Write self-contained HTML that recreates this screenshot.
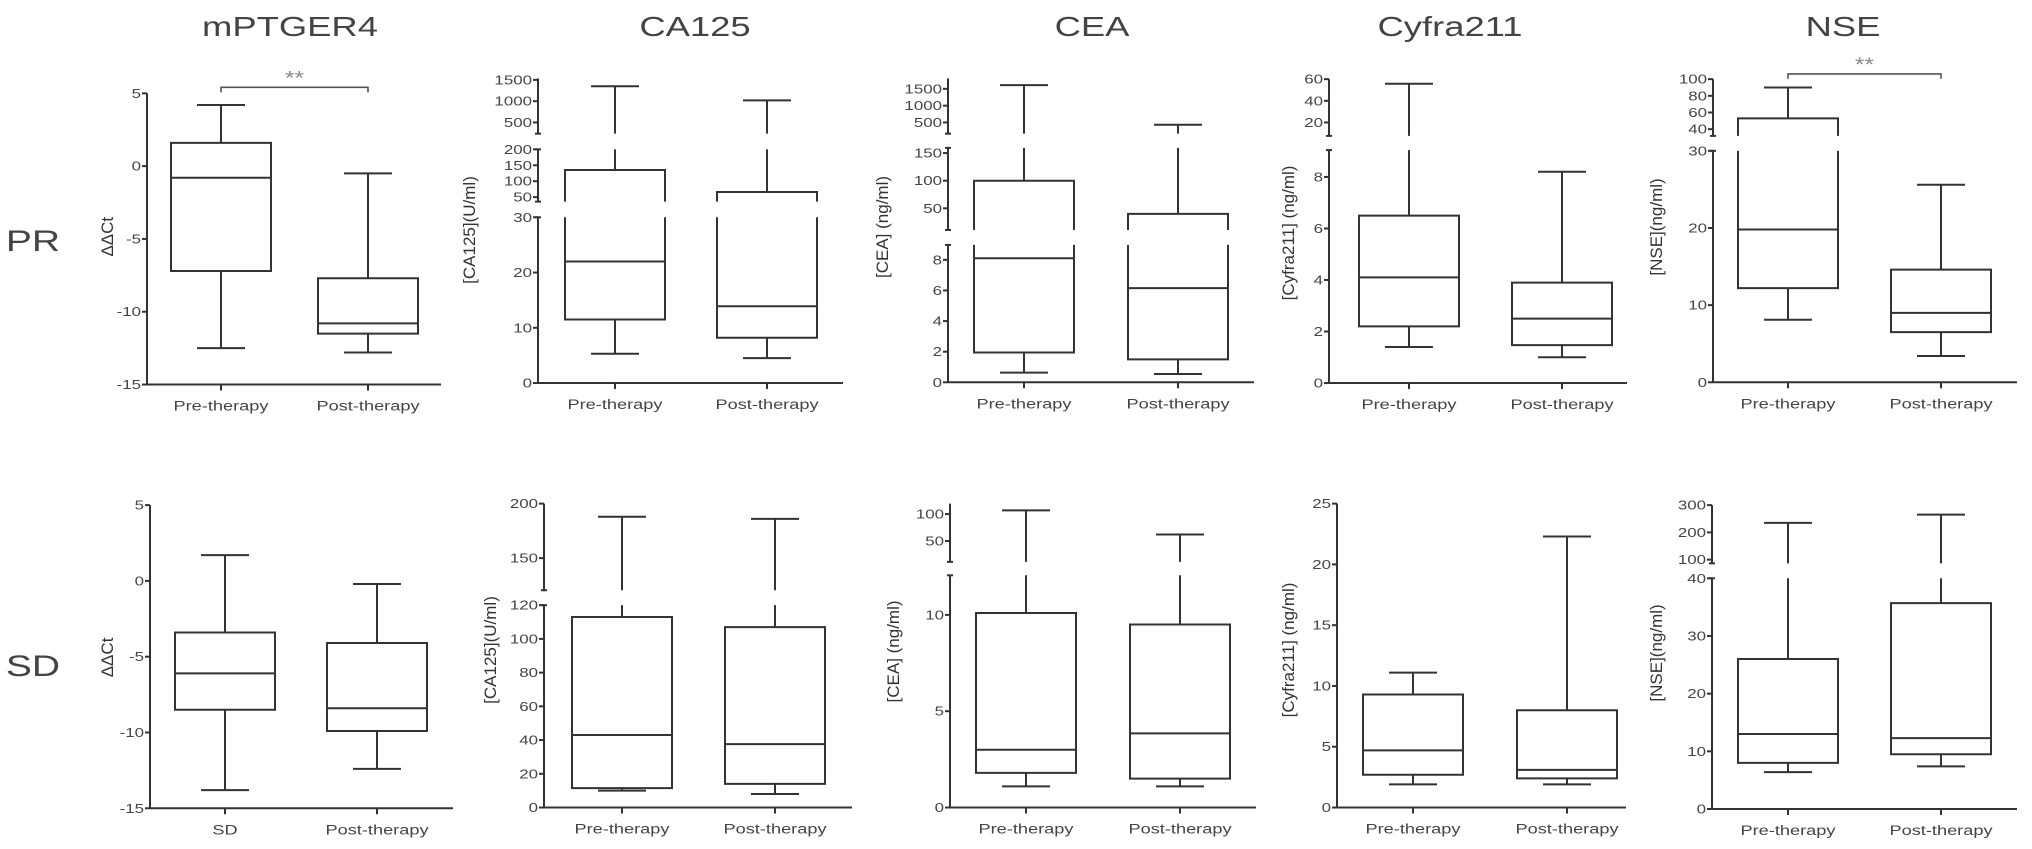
<!DOCTYPE html>
<html><head><meta charset="utf-8"><style>
html,body{margin:0;padding:0;background:#fff;}
svg{display:block;font-family:"Liberation Sans",Arial,sans-serif;}
</style></head><body>
<svg id="fig" width="2032" height="849" viewBox="0 0 2032 849" xmlns="http://www.w3.org/2000/svg">
<text transform="translate(290,36) scale(1.3,1)" font-size="28" fill="#444" text-anchor="middle">mPTGER4</text>
<text transform="translate(695,36) scale(1.3,1)" font-size="28" fill="#444" text-anchor="middle">CA125</text>
<text transform="translate(1092,36) scale(1.3,1)" font-size="28" fill="#444" text-anchor="middle">CEA</text>
<text transform="translate(1450,36) scale(1.3,1)" font-size="28" fill="#444" text-anchor="middle">Cyfra211</text>
<text transform="translate(1843,36) scale(1.3,1)" font-size="28" fill="#444" text-anchor="middle">NSE</text>
<text transform="translate(33,251) scale(1.3,1)" font-size="30" fill="#444" text-anchor="middle">PR</text>
<text transform="translate(33,676) scale(1.3,1)" font-size="30" fill="#444" text-anchor="middle">SD</text>
</svg>
<script>
// data: [min, q1, median, q3, max]
const categoriesTop = ["Pre-therapy", "Post-therapy"];
const categoriesSdMptger = ["SD", "Post-therapy"];
const prMptgerPre = [-12.5, -7.2, -0.8, 1.6, 4.2];
const prMptgerPost = [-12.8, -11.5, -10.8, -7.7, -0.5];
const prCa125Pre = [5.3, 11.5, 22, 135, 1350];
const prCa125Post = [4.5, 8.2, 13.9, 66, 1020];
const prCeaPre = [0.63, 1.95, 8.1, 100, 1610];
const prCeaPost = [0.54, 1.5, 6.15, 40, 430];
const prCyfraPre = [1.4, 2.2, 4.1, 6.5, 55.7];
const prCyfraPost = [1.0, 1.47, 2.5, 3.9, 8.2];
const prNsePre = [8.1, 12.2, 19.8, 53, 90];
const prNsePost = [3.4, 6.5, 9.0, 14.6, 25.6];
const sdMptgerPre = [-13.8, -8.5, -6.1, -3.4, 1.7];
const sdMptgerPost = [-12.4, -9.9, -8.4, -4.1, -0.2];
const sdCa125Pre = [10, 11.5, 43, 113, 188];
const sdCa125Post = [8, 14, 37.6, 107, 186];
const sdCeaPre = [1.1, 1.8, 3.0, 10.1, 107];
const sdCeaPost = [1.1, 1.5, 3.85, 9.5, 62];
const sdCyfraPre = [1.9, 2.7, 4.7, 9.3, 11.1];
const sdCyfraPost = [1.9, 2.4, 3.1, 8.0, 22.3];
const sdNsePre = [6.4, 8, 13, 26, 235];
const sdNsePost = [7.4, 9.5, 12.3, 35.7, 265];
// tick labels
const ticksMptger = [5, 0, -5, -10, -15];
const ticksCa125TopLow = [0, 10, 20, 30];
const ticksCa125TopMid = [50, 100, 150, 200];
const ticksCa125TopHigh = [500, 1000, 1500];
const ticksCeaTopLow = [0, 2, 4, 6, 8];
const ticksCeaTopMid = [50, 100, 150];
const ticksCeaTopHigh = [500, 1000, 1500];
const ticksCyfraTopLow = [0, 2, 4, 6, 8];
const ticksCyfraTopHigh = [20, 40, 60];
const ticksNseTopLow = [0, 10, 20, 30];
const ticksNseTopHigh = [40, 60, 80, 100];
const ticksCa125SdLow = [0, 20, 40, 60, 80, 100, 120];
const ticksCa125SdHigh = [150, 200];
const ticksCeaSdLow = [0, 5, 10];
const ticksCeaSdHigh = [50, 100];
const ticksCyfraSd = [0, 5, 10, 15, 20, 25];
const ticksNseSdLow = [0, 10, 20, 30, 40];
const ticksNseSdHigh = [100, 200, 300];

const NS = "http://www.w3.org/2000/svg";
const svg = document.getElementById("fig");
const C = "#333";
const VS = 2.24 / 3;
let clipId = 0;
function mk(tag, attrs, parent) {
  const e = document.createElementNS(NS, tag);
  for (const k in attrs) e.setAttribute(k, attrs[k]);
  (parent || svg).appendChild(e);
  return e;
}
function line(x1, y1, x2, y2, parent, name) {
  const l = mk("line", {x1: x1, y1: y1, x2: x2, y2: y2, stroke: C, "stroke-width": 2}, parent);
  
  
  return l;
}

function panel(p) {
  const off = p.row === 0 ? 0 : 420;
  const Y = v => off + (v - off) * VS;
  p.base = Y(p.base); p.yly = Y(p.yly); if (p.sig) p.sig = Y(p.sig);
  p.segs.forEach(s => { s.p0 = Y(s.p0); s.p1 = Y(s.p1); s.top = Y(s.top); s.bot = Y(s.bot); });
  const single = p.segs.length === 1;
  const g = mk("g", {});
  
  
  p.segs.forEach((s, si) => {
    const sc = v => s.p0 + (v - s.v0) * (s.p1 - s.p0) / (s.v1 - s.v0);
    const botTol = si === 0 ? 0.5 : -2;
    const inSeg = y => single || (y >= s.top - 0.5 && y <= s.bot + botTol);
    const id = "clip" + (clipId++);
    const cp = mk("clipPath", {id: id}, g);
    const pad = single ? 50 : 0;
    mk("rect", {x: 0, y: s.top - pad, width: 2032, height: s.bot - s.top + 2 * pad}, cp);
    const cg = mk("g", {"clip-path": "url(#" + id + ")"}, g);
    p.series.forEach((d, i) => {
      const cx = p.centers[i], hw = 50, cw = 24;
      const bg = mk("g", {}, cg);
      
      
      const yMin = sc(d[0]), yQ1 = sc(d[1]), yMed = sc(d[2]), yQ3 = sc(d[3]), yMax = sc(d[4]);
      line(cx - hw, yQ3, cx - hw, yQ1, bg, 'box-left-side');
      line(cx + hw, yQ3, cx + hw, yQ1, bg, 'box-right-side');
      if (inSeg(yQ3)) line(cx - hw - 1, yQ3, cx + hw + 1, yQ3, bg, 'box-q3-edge');
      if (inSeg(yQ1)) line(cx - hw - 1, yQ1, cx + hw + 1, yQ1, bg, 'box-q1-edge');
      if (inSeg(yMed)) line(cx - hw, yMed, cx + hw, yMed, bg, 'median-line');
      line(cx, yQ1, cx, yMin, bg, 'lower-whisker');
      if (inSeg(yMin)) line(cx - cw, yMin, cx + cw, yMin, bg, 'lower-whisker-cap');
      if (inSeg(yMax) || yMax < s.bot + botTol) {
        line(cx, yQ3, cx, yMax, bg, 'upper-whisker');
      }
      if (inSeg(yMax)) line(cx - cw, yMax, cx + cw, yMax, bg, 'upper-whisker-cap');
    });
    line(p.ax, s.top, p.ax, s.bot, g, 'y-axis-segment');
    if (!single) {
      if (si > 0) line(p.ax - 3, s.bot, p.ax + 3, s.bot, g, 'axis-break-mark');
      if (si < p.segs.length - 1) line(p.ax - 3, s.top, p.ax + 3, s.top, g, 'axis-break-mark');
    }
    s.ticks.forEach(t => {
      const y = sc(t);
      line(p.ax - 5, y, p.ax, y, g, 'y-tick');
      const tx = mk("text", {transform: "translate(" + (p.ax - 6) + "," + (y + 4.5) + ") scale(1.3,1)", "font-size": 13, fill: "#444", "text-anchor": "end"}, g);
      
      
      tx.textContent = t;
    });
  });
  line(p.ax, p.base, p.xEnd, p.base, g, 'x-axis');
  p.centers.forEach((cx, i) => {
    line(cx, p.base, cx, p.base + 6, g, 'x-tick');
    const tx = mk("text", {transform: "translate(" + cx + "," + (p.base + 26) + ") scale(1.3,1)", "font-size": 14, fill: "#444", "text-anchor": "middle"}, g);
    
    
    tx.textContent = p.cats[i];
  });
  const yl = mk("text", {x: 0, y: 0, "font-size": 17, fill: "#333", "text-anchor": "middle",
    transform: "translate(" + p.ylx + "," + p.yly + ") rotate(-90)"}, g);
  
  
  yl.textContent = p.ylabel;
  if (p.sig) {
    const y = p.sig;
    const b = mk("path", {d: "M" + p.centers[0] + " " + (y + 5) + "V" + y + "H" + p.centers[1] + "V" + (y + 5), fill: "none", stroke: "#555", "stroke-width": 1.6}, g);
    
    
    const st = mk("text", {transform: "translate(" + ((p.centers[0] + p.centers[1]) / 2) + "," + (y - 3) + ") scale(1.3,1)", "font-size": 19, fill: "#888", "text-anchor": "middle"}, g);
    
    
    st.textContent = "**";
  }
}

// ---- top row (PR)
panel({row: 0, name: "pr-mptger4-panel", ax: 147, xEnd: 441, base: 515, centers: [221, 368], cats: categoriesTop,
  series: [prMptgerPre, prMptgerPost], ylabel: "ΔΔCt", ylx: 113, yly: 317, sig: 117,
  segs: [{v0: -15, p0: 515, v1: 5, p1: 125, top: 125, bot: 515, ticks: ticksMptger}]});
panel({row: 0, name: "pr-ca125-panel", ax: 538, xEnd: 843, base: 513, centers: [615, 767], cats: categoriesTop,
  series: [prCa125Pre, prCa125Post], ylabel: "[CA125](U/ml)", ylx: 475, yly: 308,
  segs: [{v0: 0, p0: 513, v1: 30, p1: 291, top: 291, bot: 513, ticks: ticksCa125TopLow},
         {v0: 50, p0: 264, v1: 200, p1: 200, top: 200, bot: 270, ticks: ticksCa125TopMid},
         {v0: 500, p0: 164, v1: 1500, p1: 107, top: 105, bot: 179, ticks: ticksCa125TopHigh}]});
panel({row: 0, name: "pr-cea-panel", ax: 948, xEnd: 1254, base: 512, centers: [1024, 1178], cats: categoriesTop,
  series: [prCeaPre, prCeaPost], ylabel: "[CEA] (ng/ml)", ylx: 888, yly: 304,
  segs: [{v0: 0, p0: 512, v1: 8, p1: 348, top: 328, bot: 512, ticks: ticksCeaTopLow},
         {v0: 50, p0: 279, v1: 150, p1: 205, top: 198, bot: 308, ticks: ticksCeaTopMid},
         {v0: 500, p0: 164, v1: 1500, p1: 119, top: 105, bot: 179, ticks: ticksCeaTopHigh}]});
panel({row: 0, name: "pr-cyfra211-panel", ax: 1329, xEnd: 1627, base: 513, centers: [1409, 1562], cats: categoriesTop,
  series: [prCyfraPre, prCyfraPost], ylabel: "[Cyfra211] (ng/ml)", ylx: 1294, yly: 312,
  segs: [{v0: 0, p0: 513, v1: 8, p1: 237, top: 201, bot: 513, ticks: ticksCyfraTopLow},
         {v0: 20, p0: 164, v1: 60, p1: 106, top: 106, bot: 182, ticks: ticksCyfraTopHigh}]});
panel({row: 0, name: "pr-nse-panel", ax: 1713, xEnd: 2017, base: 512, centers: [1788, 1941], cats: categoriesTop,
  series: [prNsePre, prNsePost], ylabel: "[NSE](ng/ml)", ylx: 1662, yly: 304, sig: 99,
  segs: [{v0: 0, p0: 512, v1: 30, p1: 202, top: 202, bot: 512, ticks: ticksNseTopLow},
         {v0: 40, p0: 173, v1: 100, p1: 106, top: 106, bot: 182, ticks: ticksNseTopHigh}]});

// ---- bottom row (SD)
panel({row: 1, name: "sd-mptger4-panel", ax: 150, xEnd: 453, base: 940, centers: [225, 377], cats: categoriesSdMptger,
  series: [sdMptgerPre, sdMptgerPost], ylabel: "ΔΔCt", ylx: 113, yly: 738,
  segs: [{v0: -15, p0: 940, v1: 5, p1: 534, top: 534, bot: 940, ticks: ticksMptger}]});
panel({row: 1, name: "sd-ca125-panel", ax: 544, xEnd: 852, base: 939, centers: [622, 775], cats: categoriesTop,
  series: [sdCa125Pre, sdCa125Post], ylabel: "[CA125](U/ml)", ylx: 496, yly: 728,
  segs: [{v0: 0, p0: 939, v1: 120, p1: 668, top: 668, bot: 939, ticks: ticksCa125SdLow},
         {v0: 150, p0: 605, v1: 200, p1: 532, top: 532, bot: 648, ticks: ticksCa125SdHigh}]});
panel({row: 1, name: "sd-cea-panel", ax: 950, xEnd: 1256, base: 939, centers: [1026, 1180], cats: categoriesTop,
  series: [sdCeaPre, sdCeaPost], ylabel: "[CEA] (ng/ml)", ylx: 899, yly: 730,
  segs: [{v0: 0, p0: 939, v1: 10, p1: 681, top: 628, bot: 939, ticks: ticksCeaSdLow},
         {v0: 50, p0: 582, v1: 100, p1: 546, top: 532, bot: 610, ticks: ticksCeaSdHigh}]});
panel({row: 1, name: "sd-cyfra211-panel", ax: 1337, xEnd: 1626, base: 939, centers: [1413, 1567], cats: categoriesTop,
  series: [sdCyfraPre, sdCyfraPost], ylabel: "[Cyfra211] (ng/ml)", ylx: 1294, yly: 728,
  segs: [{v0: 0, p0: 939, v1: 25, p1: 532, top: 532, bot: 939, ticks: ticksCyfraSd}]});
panel({row: 1, name: "sd-nse-panel", ax: 1712, xEnd: 2017, base: 941, centers: [1788, 1941], cats: categoriesTop,
  series: [sdNsePre, sdNsePost], ylabel: "[NSE](ng/ml)", ylx: 1662, yly: 732,
  segs: [{v0: 0, p0: 941, v1: 40, p1: 632, top: 632, bot: 941, ticks: ticksNseSdLow},
         {v0: 100, p0: 607, v1: 300, p1: 534, top: 534, bot: 612, ticks: ticksNseSdHigh}]});
</script>
</body></html>
